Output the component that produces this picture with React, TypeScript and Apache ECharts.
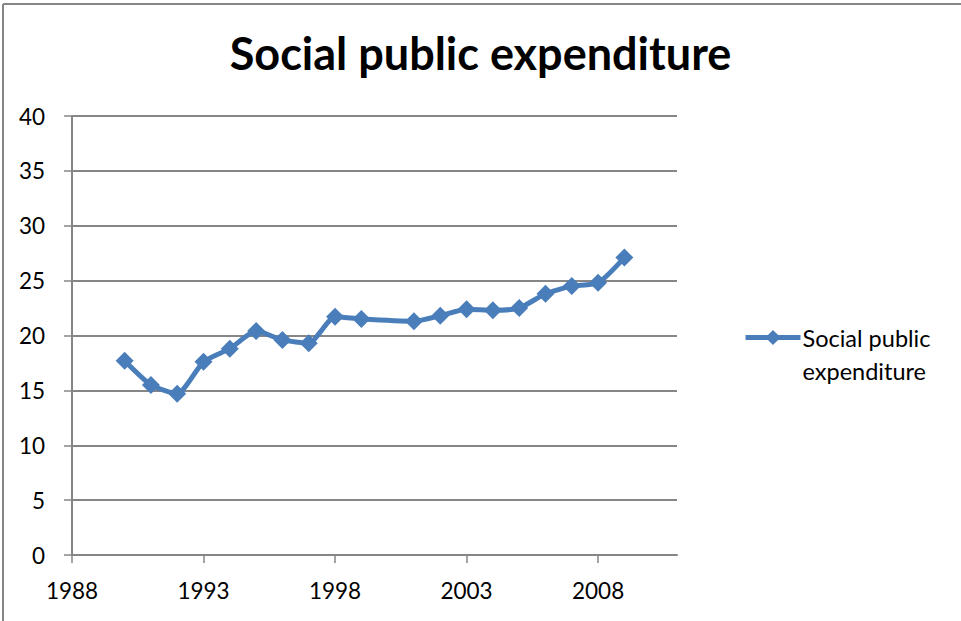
import React, { useEffect, useRef } from "react";
import * as echarts from "echarts";

const years = [1990, 1991, 1992, 1993, 1994, 1995, 1996, 1997, 1998, 1999, 2001, 2002, 2003, 2004, 2005, 2006, 2007, 2008, 2009];
const values = [17.7, 15.5, 14.7, 17.6, 18.8, 20.4, 19.6, 19.3, 21.7, 21.5, 21.3, 21.8, 22.4, 22.3, 22.5, 23.8, 24.5, 24.8, 27.1];
const xTicks = [1988, 1993, 1998, 2003, 2008];
const titleText = "Social public expenditure";
const seriesName = "Social public expenditure";

export default function App() {
  const ref = useRef<HTMLDivElement>(null);
  useEffect(() => {
    if (!ref.current) return;
    const chart = echarts.init(ref.current, null, { renderer: "svg" });
    const font = "Lato, 'Open Sans', sans-serif";
    const grey = "#868686";
    const blue = "#4a7ebb";
    chart.setOption({
      animation: false,
      backgroundColor: "#ffffff",
      textStyle: { fontFamily: font },
      title: {
        text: titleText,
        left: "center",
        top: 25,
        textStyle: { fontFamily: font, fontWeight: "bold", fontSize: 45, color: "#000" },
      },
      graphic: [
        { type: "line", shape: { x1: 3, y1: 4, x2: 961, y2: 4 }, style: { stroke: grey, lineWidth: 2 } },
        { type: "line", shape: { x1: 3, y1: 4, x2: 3, y2: 621 }, style: { stroke: grey, lineWidth: 2 } },
      ],
      legend: {
        left: 743,
        top: 288,
        padding: 0,
        orient: "vertical",
        itemWidth: 55,
        itemHeight: 19,
        itemGap: 4,
        formatter: () => "\nSocial public\nexpenditure",
        lineStyle: { width: 5, color: blue },
        itemStyle: { color: blue },
        textStyle: { fontFamily: font, fontSize: 23.5, color: "#000", lineHeight: 33, padding: [0, 0, 0, -3] },
        data: [seriesName],
      },
      grid: { left: 72, right: 284, top: 116, bottom: 66 },
      xAxis: {
        type: "value",
        min: 1988,
        max: 2011,
        interval: 5,
        axisLine: { show: true, onZero: false, lineStyle: { color: grey, width: 2 } },
        axisTick: { show: true, length: 8, customValues: xTicks, lineStyle: { color: grey, width: 1.5 } },
        axisLabel: {
          customValues: xTicks,
          margin: 24,
          fontSize: 22.5,
          color: "#000",
          fontFamily: font,
          formatter: (v: number) => String(v),
        },
        splitLine: { show: false },
      },
      yAxis: {
        type: "value",
        min: 0,
        max: 40,
        interval: 5,
        axisLine: { show: true, lineStyle: { color: grey, width: 2 } },
        axisTick: { show: true, length: 8, lineStyle: { color: grey, width: 1.5 } },
        axisLabel: { margin: 27, fontSize: 22.5, color: "#000", fontFamily: font },
        splitLine: { show: true, lineStyle: { color: grey, width: 2 } },
      },
      series: [
        {
          name: seriesName,
          type: "line",
          data: years.map((y, i) => [y, values[i]]),
          smooth: 0.2,
          symbol: "diamond",
          symbolSize: 18,
          color: blue,
          lineStyle: { width: 5, color: blue },
          itemStyle: { color: blue },
        },
      ],
    });
    return () => chart.dispose();
  }, []);
  return <div ref={ref} style={{ position: "fixed", left: 0, top: 0, width: 961, height: 621 }} />;
}
